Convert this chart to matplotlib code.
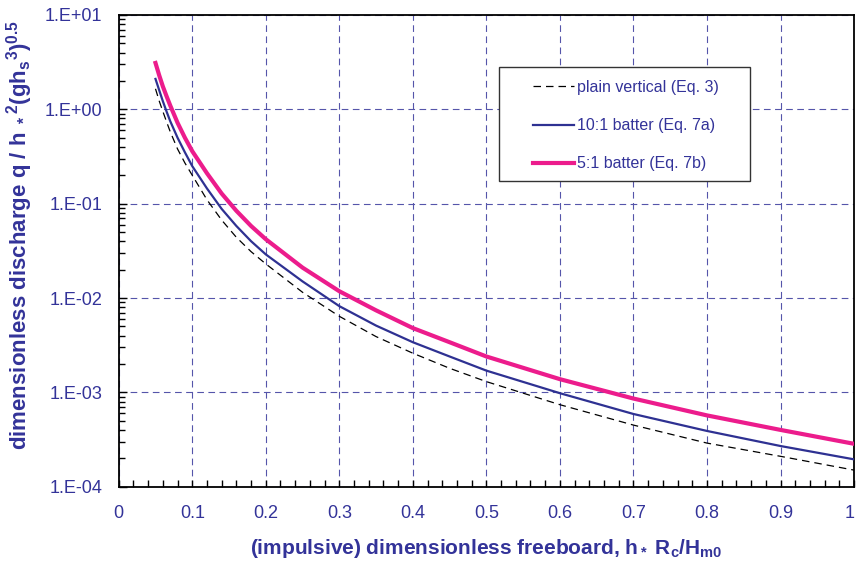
import matplotlib
matplotlib.use('Agg')
import matplotlib.pyplot as plt
from matplotlib.patches import Rectangle
from matplotlib.transforms import ScaledTranslation
from matplotlib.ticker import LogLocator, MultipleLocator, NullFormatter

plt.rcParams['font.family'] = ['Liberation Sans', 'DejaVu Sans']
plt.rcParams['mathtext.fontset'] = 'custom'
plt.rcParams['mathtext.rm'] = 'Liberation Sans:bold'
plt.rcParams['mathtext.it'] = 'Liberation Sans:bold'
plt.rcParams['mathtext.bf'] = 'Liberation Sans:bold'

# Freeboard values
x = [0.05, 0.055, 0.06, 0.065, 0.07, 0.08, 0.09, 0.1, 0.12, 0.14, 0.16, 0.18, 0.2,
     0.25, 0.3, 0.35, 0.4, 0.45, 0.5, 0.6, 0.7, 0.8, 0.9, 1.0]

# Dimensionless discharge for each curve
plain_vertical = [1.65, 1.23, 0.95, 0.74, 0.58, 0.38, 0.27, 0.20, 0.11, 0.067, 0.044,
                  0.031, 0.023, 0.0115, 0.0064, 0.0039, 0.0026, 0.0018, 0.0013,
                  7.4e-4, 4.5e-4, 2.9e-4, 2.1e-4, 1.5e-4]
batter_10_1 = [2.1, 1.6, 1.22, 0.95, 0.75, 0.50, 0.35, 0.25, 0.145, 0.088, 0.058,
               0.040, 0.029, 0.015, 0.0082, 0.0051, 0.0034, 0.0024, 0.0017,
               9.8e-4, 5.9e-4, 3.9e-4, 2.7e-4, 1.95e-4]
batter_5_1 = [3.1, 2.3, 1.75, 1.38, 1.1, 0.72, 0.50, 0.36, 0.21, 0.128, 0.084,
              0.058, 0.042, 0.021, 0.0118, 0.0074, 0.0048, 0.0034, 0.0024,
              1.38e-3, 8.6e-4, 5.7e-4, 4.0e-4, 2.85e-4]

y_ticks = [1e-4, 1e-3, 1e-2, 1e-1, 1e0, 1e1]
y_labels = ['1.E-04', '1.E-03', '1.E-02', '1.E-01', '1.E+00', '1.E+01']
x_ticks = [0, 0.1, 0.2, 0.3, 0.4, 0.5, 0.6, 0.7, 0.8, 0.9, 1]
x_labels = ['0', '0.1', '0.2', '0.3', '0.4', '0.5', '0.6', '0.7', '0.8', '0.9', '1']

text_col = '#333399'
grid_col = '#5555aa'

fig = plt.figure(figsize=(8.56, 5.63), dpi=100)
ax = fig.add_axes([0.1387, 0.1355, 0.8590, 0.8379])

ax.plot(x, plain_vertical, color='black', lw=0.9, linestyle=(0, (6, 4)),
        label='plain vertical (Eq. 3)', zorder=3)
ax.plot(x, batter_10_1, color='#2e3192', lw=1.6, label='10:1 batter (Eq. 7a)', zorder=4)
ax.plot(x, batter_5_1, color='#ec1c8c', lw=3.0, label='5:1 batter (Eq. 7b)', zorder=5)

ax.set_yscale('log')
ax.set_xlim(0, 1)
ax.set_ylim(1e-4, 10)

ax.set_yticks(y_ticks)
ax.set_yticklabels(y_labels)
ax.yaxis.set_minor_locator(LogLocator(base=10, subs=range(2, 10)))
ax.yaxis.set_minor_formatter(NullFormatter())
ax.set_xticks(x_ticks)
ax.set_xticklabels(x_labels)
ax.xaxis.set_minor_locator(MultipleLocator(0.02))

ax.tick_params(which='both', direction='in', colors='black', labelcolor=text_col,
               labelsize=13, width=1)
ax.tick_params(axis='x', which='both', length=5, pad=13)
ax.tick_params(axis='y', which='major', length=6, pad=12)
ax.tick_params(axis='y', which='minor', length=4)

# keep the last x label inside the picture
last = ax.get_xticklabels()[-1]
last.set_transform(last.get_transform() + ScaledTranslation(-3 / 72, 0, fig.dpi_scale_trans))

for s in ax.spines.values():
    s.set_linewidth(1.3)
    s.set_color('black')

ax.grid(True, which='major', color=grid_col, linestyle=(0, (6, 4)), lw=0.8)

ax.set_xlabel('(impulsive) dimensionless freeboard, h$_*$ R$_c$/H$_{m0}$',
              fontsize=15, fontweight='bold', color=text_col, labelpad=11)
ax.set_ylabel('dimensionless discharge q / h $_*$$^2$(gh$_s$$^3$)$^{0.5}$',
              fontsize=16, fontweight='bold', color=text_col)
ax.yaxis.set_label_coords(-0.114, 0.534)

# legend box drawn separately, legend entries placed inside it
ax.add_patch(Rectangle((0.517, 0.648), 0.342, 0.242, transform=ax.transAxes,
                       facecolor='white', edgecolor='#333333', lw=1, zorder=6))
leg = ax.legend(loc='upper left', bbox_to_anchor=(0.563, 0.862), fontsize=11.5,
                frameon=False, labelspacing=1.45, handlelength=2.6,
                handletextpad=0.15, borderpad=0, borderaxespad=0)
leg.set_zorder(7)
for t in leg.get_texts():
    t.set_color(text_col)

fig.savefig('out.png', dpi=100)
